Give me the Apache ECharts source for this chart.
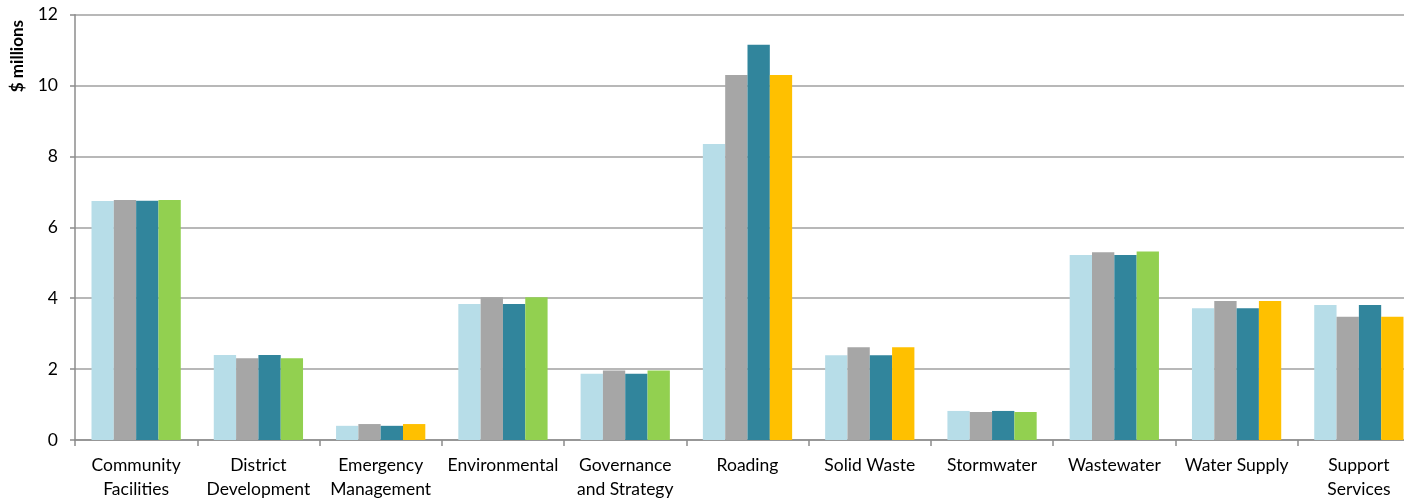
<!DOCTYPE html>
<html>
<head>
<meta charset="utf-8">
<script src="https://cdn.jsdelivr.net/npm/echarts@6/dist/echarts.min.js"></script>
<style>
  html, body { margin: 0; padding: 0; background: #fff; overflow: hidden; }
  #chart { width: 1404px; height: 499px; }
</style>
</head>
<body>
<div id="chart"></div>
<script>
// Activity groups along the horizontal axis
const categories = [
  'Community\nFacilities', 'District\nDevelopment', 'Emergency\nManagement', 'Environmental',
  'Governance\nand Strategy', 'Roading', 'Solid Waste', 'Stormwater',
  'Wastewater', 'Water Supply', 'Support\nServices'
];

// Spending by group, $ millions
const seriesA = [6.74, 2.40, 0.40, 3.84, 1.87, 8.35, 2.39, 0.82, 5.22, 3.72, 3.81];
const seriesB = [6.77, 2.31, 0.45, 4.03, 1.96, 10.30, 2.62, 0.79, 5.30, 3.92, 3.48];
const seriesC = [6.75, 2.40, 0.40, 3.84, 1.87, 11.15, 2.39, 0.82, 5.22, 3.72, 3.81];
const seriesD = [6.77, 2.31, 0.45, 4.03, 1.96, 10.30, 2.62, 0.79, 5.32, 3.92, 3.48];

// Fourth bar is highlighted where the group is flagged
const flagged = [false, false, true, false, false, true, true, false, false, true, true];

const yTicks = [0, 2, 4, 6, 8, 10, 12];

const FONT = 'Lato, "Open Sans", sans-serif';
const colA = '#B7DDE8', colB = '#A6A6A6', colC = '#31859C';
const colGreen = '#92D050', colYellow = '#FFC000';

const chart = echarts.init(document.getElementById('chart'), null, { renderer: 'canvas' });

function bar(name, data, color) {
  return {
    name, type: 'bar', data,
    barGap: '0%', barCategoryGap: '27%',
    itemStyle: { color },
    animation: false
  };
}

chart.setOption({
  animation: false,
  // plot runs past the right edge of the page, so the last group is clipped
  grid: {
    left: 75, width: 1345, top: 14.7, height: 425.3,
    containLabel: false, outerBoundsMode: 'none'
  },
  xAxis: {
    type: 'category',
    data: categories,
    axisLine: { lineStyle: { color: '#8C8C8C', width: 1.5 } },
    axisTick: { show: true, length: 6, alignWithLabel: false, lineStyle: { color: '#8C8C8C', width: 1.5 } },
    axisLabel: { color: '#000', fontFamily: FONT, fontSize: 17.5, lineHeight: 24, margin: 13, interval: 0 }
  },
  yAxis: {
    type: 'value',
    min: yTicks[0], max: yTicks[yTicks.length - 1], interval: 2,
    axisLine: { show: true, lineStyle: { color: '#8C8C8C', width: 1.5 } },
    axisTick: { show: true, length: 5, lineStyle: { color: '#8C8C8C', width: 1.5 } },
    splitLine: { lineStyle: { color: '#A0A0A0', width: 1.5 } },
    axisLabel: { color: '#000', fontFamily: FONT, fontSize: 17.5, margin: 17 }
  },
  graphic: [{
    type: 'text',
    left: 9, top: 20,
    rotation: Math.PI / 2,
    style: { text: '$ millions', font: 'bold 17px ' + FONT, fill: '#000' }
  }],
  series: [
    bar('A', seriesA, colA),
    bar('B', seriesB, colB),
    bar('C', seriesC, colC),
    bar('D', seriesD.map((v, i) => ({ value: v, itemStyle: { color: flagged[i] ? colYellow : colGreen } })), colGreen)
  ]
});
</script>
</body>
</html>
